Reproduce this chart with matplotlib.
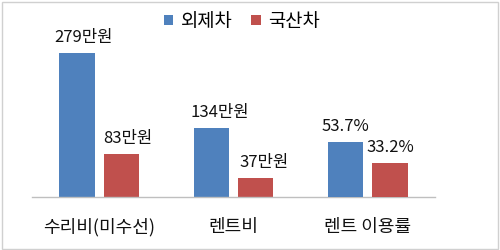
"""
Repair cost / rent cost / rent usage: imported vs domestic cars
"""

import matplotlib

matplotlib.use("Agg")
import matplotlib.pyplot as plt
import numpy as np
from matplotlib.patches import Rectangle

plt.rcParams["font.family"] = ["Noto Sans CJK KR", "DejaVu Sans"]

# ------------------------------------------------------------------------------------
# Data
# ------------------------------------------------------------------------------------
categories = ["수리비(미수선)", "렌트비", "렌트 이용률"]
series_names = ["외제차", "국산차"]

# first two groups in 만원, last group in %
cost_foreign = [279, 134]
cost_domestic = [83, 37]
rate_foreign = [53.7]
rate_domestic = [33.2]

foreign_labels = ["279만원", "134만원", "53.7%"]
domestic_labels = ["83만원", "37만원", "33.2%"]

BLUE = "#4F81BD"
RED = "#C0504D"

# ------------------------------------------------------------------------------------
# Plot
# ------------------------------------------------------------------------------------
fig = plt.figure(figsize=(5, 2.5), dpi=100)
ax = fig.add_axes([0.064, 0.211, 0.806, 0.709])
ax2 = ax.twinx()  # separate scale for the percentage group

x = np.arange(len(categories))
w = 0.265
off = 0.165

cost_x = x[: len(cost_foreign)]
rate_x = x[len(cost_foreign):]

b1 = ax.bar(cost_x - off, cost_foreign, w, color=BLUE, label=series_names[0])
b2 = ax.bar(cost_x + off, cost_domestic, w, color=RED, label=series_names[1])
b3 = ax2.bar(rate_x - off, rate_foreign, w, color=BLUE)
b4 = ax2.bar(rate_x + off, rate_domestic, w, color=RED)

ax.set_xlim(-0.5, 2.5)
ax.set_ylim(0, 343)
ax2.set_ylim(0, 173.8)

# value labels (the 만원 ones sit a touch right of the bar centre)
label_shift = [5, 6, 0]
for bars, labels in [(list(b1) + list(b3), foreign_labels), (list(b2) + list(b4), domestic_labels)]:
    for i, (bar, txt) in enumerate(zip(bars, labels)):
        target = ax if i < len(cost_foreign) else ax2
        target.annotate(
            txt,
            (bar.get_x() + bar.get_width() / 2, bar.get_height()),
            xytext=(label_shift[i], 8),
            textcoords="offset points",
            ha="center",
            va="baseline",
            fontsize=12,
            color="#111111",
        )

for a in (ax, ax2):
    for s in ["top", "right", "left"]:
        a.spines[s].set_visible(False)
    a.set_yticks([])
ax2.spines["bottom"].set_visible(False)
ax.spines["bottom"].set_color("#BFBFBF")
ax.spines["bottom"].set_linewidth(1.0)

ax.set_xticks(x, categories, fontsize=13, color="#111111")
ax.tick_params(axis="x", length=0, pad=15)

fig.legend(
    handles=[b1, b2],
    labels=series_names,
    loc="center",
    bbox_to_anchor=(0.484, 0.915),
    ncol=2,
    frameon=False,
    fontsize=13.5,
    handlelength=0.5,
    handleheight=0.5,
    handletextpad=0.4,
    columnspacing=1.0,
)

# light frame around the picture
fig.patches.append(
    Rectangle((0.004, 0.004), 0.992, 0.988, transform=fig.transFigure,
              fill=False, edgecolor="#D0D0D0", linewidth=1.0)
)

fig.savefig("out.png", dpi=100)
